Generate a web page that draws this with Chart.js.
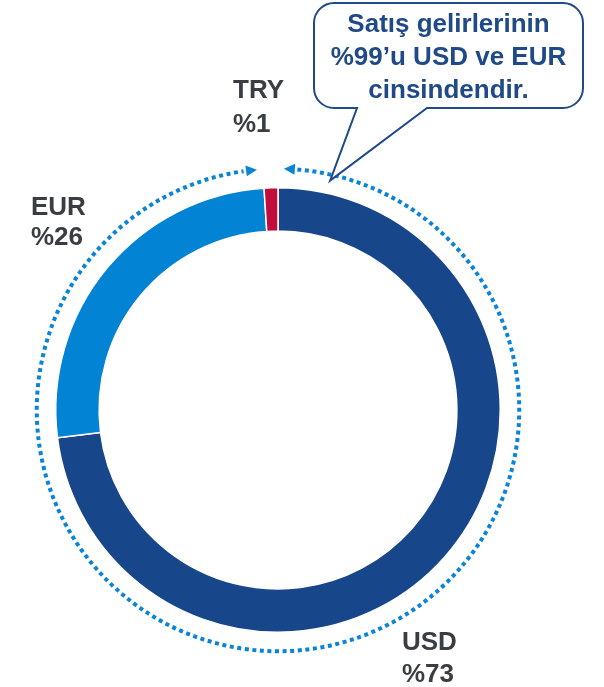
<!DOCTYPE html>
<html lang="tr">
<head>
<meta charset="utf-8">
<title>Satış gelirleri - döviz dağılımı</title>
<script src="https://cdn.jsdelivr.net/npm/chart.js@4.4.1/dist/chart.umd.min.js"></script>
<style>
  html, body { margin: 0; padding: 0; background: #fff; }
  #wrap { width: 604px; height: 687px; position: relative; }
</style>
</head>
<body>
<div id="wrap"><canvas id="currencyChart" width="604" height="687"></canvas></div>
<script>
const currencies = ["USD", "EUR", "TRY"];
const shares = [73, 26, 1];
const sliceColors = ["#17478A", "#0283D4", "#C00D3C"];
const calloutLines = ["Satış gelirlerinin", "%99’u USD ve EUR", "cinsindendir."];

const FONT = '"Liberation Sans", Arial, sans-serif';
const LABEL_COLOR = "#3A3D42";
const CALLOUT_COLOR = "#1F4A87";
const DOT_COLOR = "#0A84D6";

// label anchor (left, baseline of first line) relative to the donut centre
const labelOffsets = {
  USD: { dx: 124, dy: 240, gap: 32 },
  EUR: { dx: -247, dy: -195, gap: 30 },
  TRY: { dx: -45, dy: -312, gap: 34 },
};

function deg(a) {
  return (a * Math.PI) / 180;
}

// point on a circle, angle measured clockwise from 12 o'clock
function polar(cx, cy, r, a) {
  return { x: cx + r * Math.sin(deg(a)), y: cy - r * Math.cos(deg(a)) };
}

function drawArrowHead(ctx, cx, cy, r, tipAngle, dir) {
  const tip = polar(cx, cy, r, tipAngle);
  const baseAngle = tipAngle - dir * 2.6;
  const b1 = polar(cx, cy, r - 5.5, baseAngle);
  const b2 = polar(cx, cy, r + 5.5, baseAngle);
  ctx.beginPath();
  ctx.moveTo(tip.x, tip.y);
  ctx.lineTo(b1.x, b1.y);
  ctx.lineTo(b2.x, b2.y);
  ctx.closePath();
  ctx.fill();
}

const decorPlugin = {
  id: "decor",
  afterDraw(chart) {
    const ctx = chart.ctx;
    const arc = chart.getDatasetMeta(0).data[0];
    const cx = arc.x;
    const cy = arc.y;
    const r = arc.outerRadius + 19;

    // dotted ring with two arrows pointing at the TRY slice
    const rightTip = 1.4;
    const leftTip = -5;
    ctx.save();
    ctx.strokeStyle = DOT_COLOR;
    ctx.fillStyle = DOT_COLOR;
    ctx.lineWidth = 4;
    ctx.setLineDash([4, 3.6]);
    ctx.beginPath();
    ctx.arc(cx, cy, r, deg(-90 + rightTip + 3.2), deg(270 + leftTip - 3.2));
    ctx.stroke();
    ctx.setLineDash([]);
    drawArrowHead(ctx, cx, cy, r, rightTip, -1);
    drawArrowHead(ctx, cx, cy, r, leftTip, 1);
    ctx.restore();

    // speech bubble
    const box = { l: 314, t: 3, r: 583, b: 108, rad: 20 };
    const tail = polar(cx, cy, r - 6, 12.8);
    const tailL = 357;
    const tailR = 427;
    ctx.save();
    ctx.beginPath();
    ctx.moveTo(box.l + box.rad, box.t);
    ctx.lineTo(box.r - box.rad, box.t);
    ctx.arcTo(box.r, box.t, box.r, box.t + box.rad, box.rad);
    ctx.lineTo(box.r, box.b - box.rad);
    ctx.arcTo(box.r, box.b, box.r - box.rad, box.b, box.rad);
    ctx.lineTo(tailR, box.b);
    ctx.lineTo(tail.x, tail.y);
    ctx.lineTo(tailL, box.b);
    ctx.lineTo(box.l + box.rad, box.b);
    ctx.arcTo(box.l, box.b, box.l, box.b - box.rad, box.rad);
    ctx.lineTo(box.l, box.t + box.rad);
    ctx.arcTo(box.l, box.t, box.l + box.rad, box.t, box.rad);
    ctx.closePath();
    ctx.fillStyle = "#fff";
    ctx.fill();
    ctx.strokeStyle = CALLOUT_COLOR;
    ctx.lineWidth = 2;
    ctx.stroke();

    ctx.fillStyle = CALLOUT_COLOR;
    ctx.font = "bold 26px " + FONT;
    ctx.textAlign = "center";
    ctx.textBaseline = "alphabetic";
    const midX = (box.l + box.r) / 2;
    calloutLines.forEach(function (line, i) {
      ctx.fillText(line, midX, 32 + i * 33);
    });
    ctx.restore();

    // slice labels
    ctx.save();
    ctx.fillStyle = LABEL_COLOR;
    ctx.font = "bold 26px " + FONT;
    ctx.textAlign = "left";
    ctx.textBaseline = "alphabetic";
    currencies.forEach(function (name, i) {
      const off = labelOffsets[name];
      if (!off) return;
      ctx.fillText(name, cx + off.dx, cy + off.dy);
      ctx.fillText("%" + shares[i], cx + off.dx, cy + off.dy + off.gap);
    });
    ctx.restore();
  },
};

function initChart() {
  const ctx = document.getElementById("currencyChart").getContext("2d");
  return new Chart(ctx, {
    type: "doughnut",
    data: {
      labels: currencies,
      datasets: [
        {
          data: shares,
          backgroundColor: sliceColors,
          borderColor: "#ffffff",
          borderWidth: 1.5,
        },
      ],
    },
    options: {
      responsive: false,
      animation: false,
      cutout: "80.5%",
      rotation: 0,
      layout: {
        padding: { left: 55, right: 103, top: 187, bottom: 54 },
      },
      plugins: {
        legend: { display: false },
        tooltip: { enabled: false },
      },
    },
    plugins: [decorPlugin],
  });
}

window.onload = function () {
  initChart();
};
</script>
</body>
</html>
